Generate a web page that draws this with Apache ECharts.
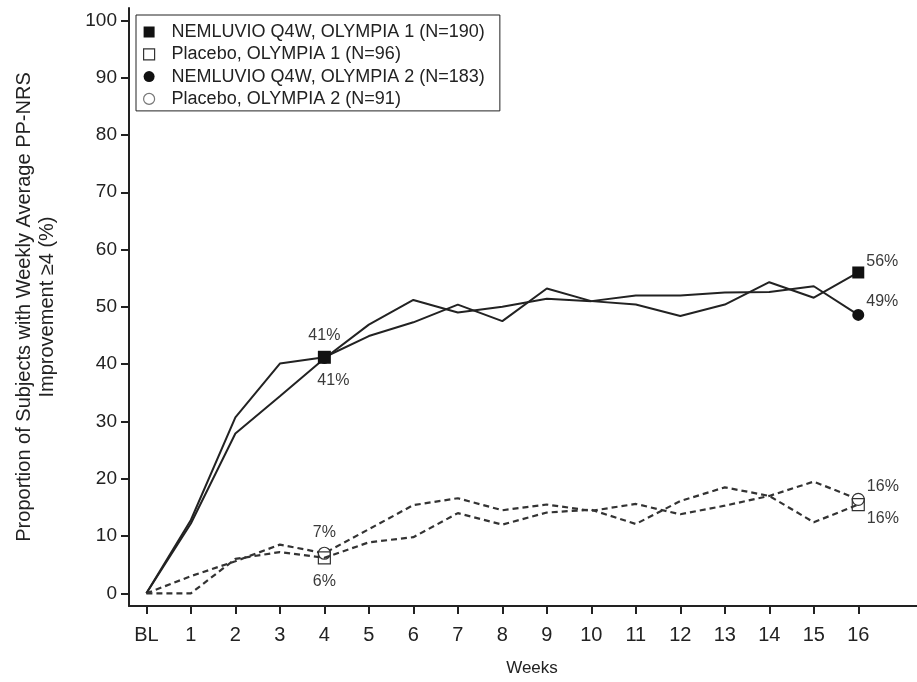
<!DOCTYPE html>
<html>
<head>
<meta charset="utf-8">
<script src="https://cdn.jsdelivr.net/npm/echarts@6/dist/echarts.min.js"></script>
<style>
html,body{margin:0;padding:0;background:#fff;}
#chart{width:917px;height:682px;}
</style>
</head>
<body>
<div id="chart"></div>
<script>
// ---- data ----
var weeks = ['BL','1','2','3','4','5','6','7','8','9','10','11','12','13','14','15','16'];
var yTicks = [0,10,20,30,40,50,60,70,80,90,100];
var nemO1 = [0, 12.8, 30.7, 40.1, 41.2, 44.9, 47.3, 50.4, 47.5, 53.2, 51.0, 50.4, 48.4, 50.4, 54.3, 51.6, 56.0];
var plaO1 = [0, 0.0, 6.0, 7.2, 6.2, 8.9, 9.8, 14.0, 12.0, 14.1, 14.6, 12.1, 16.1, 18.5, 17.0, 12.4, 15.5];
var nemO2 = [0, 12.2, 27.9, 34.4, 41.0, 46.9, 51.2, 49.0, 50.0, 51.4, 51.0, 52.0, 52.0, 52.5, 52.6, 53.6, 48.6];
var plaO2 = [0, 3.0, 5.6, 8.5, 7.0, 11.2, 15.4, 16.6, 14.5, 15.5, 14.4, 15.6, 13.8, 15.3, 17.0, 19.5, 16.4];
var seriesNames = [
  'NEMLUVIO Q4W, OLYMPIA 1 (N=190)',
  'Placebo, OLYMPIA 1 (N=96)',
  'NEMLUVIO Q4W, OLYMPIA 2 (N=183)',
  'Placebo, OLYMPIA 2 (N=91)'
];
var markedWeeks = [4, 16];

// ---- chart ----
var chart = echarts.init(document.getElementById('chart'), null, {renderer:'canvas'});
var FONT = '"Liberation Sans", Arial, sans-serif';
var LABEL_STYLE = {show: true, fontFamily: FONT, fontSize: 16, color: '#3a3a3a'};

function build(values, labelCfg, sizes) {
  return values.map(function (v, i) {
    var marked = markedWeeks.indexOf(i) >= 0;
    var item = {value: [i, v], symbolSize: marked ? (sizes[i] || 12) : 0};
    if (marked && labelCfg[i]) {
      item.label = Object.assign({formatter: Math.round(v) + '%'}, LABEL_STYLE, labelCfg[i]);
    }
    return item;
  });
}

var solid = {color: '#222', width: 2, type: 'solid'};
var dashed = {color: '#333', width: 2.2, type: [6, 4]};

var series = [
  {
    name: seriesNames[2], type: 'line', z: 2,
    symbol: 'circle', showSymbol: true,
    itemStyle: {color: '#111'},
    lineStyle: solid,
    data: build(nemO2, {
      4: {position: 'bottom', offset: [9, 4]},
      16: {position: 'right', offset: [-3, -13]}
    }, {4: 11})
  },
  {
    name: seriesNames[0], type: 'line', z: 3,
    symbol: 'rect', showSymbol: true,
    itemStyle: {color: '#111'},
    lineStyle: solid,
    data: build(nemO1, {
      4: {position: 'top', offset: [0, -2]},
      16: {position: 'right', offset: [-3, -11]}
    }, {4: 13})
  },
  {
    name: seriesNames[3], type: 'line', z: 2,
    symbol: 'circle', showSymbol: true,
    itemStyle: {color: '#fff', borderColor: '#333', borderWidth: 1.2},
    lineStyle: dashed,
    data: build(plaO2, {
      4: {position: 'top', offset: [0, -1]},
      16: {position: 'right', offset: [-3, -13]}
    }, {})
  },
  {
    name: seriesNames[1], type: 'line', z: 3,
    symbol: 'rect', showSymbol: true,
    itemStyle: {color: 'rgba(255,255,255,0)', borderColor: '#333', borderWidth: 1.2},
    lineStyle: dashed,
    data: build(plaO1, {
      4: {position: 'bottom', offset: [0, 4]},
      16: {position: 'right', offset: [-3, 14]}
    }, {})
  }
];

var tickIdx = weeks.map(function (w, i) { return i; });

var option = {
  animation: false,
  backgroundColor: '#fff',
  grid: {left: 129, right: 0, top: 8, bottom: 75, containLabel: false},
  legend: {
    orient: 'vertical',
    left: 136, top: 15,
    padding: [8, 15, 3, 7],
    itemGap: 4.3,
    itemWidth: 11, itemHeight: 11,
    borderColor: '#222', borderWidth: 1,
    backgroundColor: '#fff',
    textStyle: {fontFamily: FONT, fontSize: 18, color: '#222', padding: [0, 0, 0, 12]},
    data: [
      {name: seriesNames[0], icon: 'rect', itemStyle: {color: '#111', borderWidth: 0}},
      {name: seriesNames[1], icon: 'rect', itemStyle: {color: '#fff', borderColor: '#333', borderWidth: 1.2}},
      {name: seriesNames[2], icon: 'circle', itemStyle: {color: '#111', borderWidth: 0}},
      {name: seriesNames[3], icon: 'circle', itemStyle: {color: '#fff', borderColor: '#777', borderWidth: 1.2}}
    ]
  },
  xAxis: {
    type: 'value',
    min: -0.391, max: 17.32,
    name: 'Weeks', nameLocation: 'middle', nameGap: 54,
    nameTextStyle: {fontFamily: FONT, fontSize: 17, color: '#222', padding: [0, 0, 0, 18]},
    axisLine: {show: true, onZero: false, lineStyle: {color: '#222', width: 2}},
    axisTick: {show: true, length: 8, customValues: tickIdx, lineStyle: {color: '#222', width: 2}},
    axisLabel: {
      customValues: tickIdx,
      formatter: function (v) { return weeks[Math.round(v)]; },
      margin: 19,
      fontFamily: FONT, fontSize: 20, color: '#222'
    },
    splitLine: {show: false}
  },
  yAxis: {
    type: 'value',
    min: -2.21, max: 102.16,
    name: 'Proportion of Subjects with Weekly Average PP-NRS\nImprovement \u22654 (%)',
    nameLocation: 'middle', nameRotate: 90, nameGap: 70,
    nameTextStyle: {fontFamily: FONT, fontSize: 20, color: '#222', lineHeight: 23, align: 'center'},
    axisLine: {show: true, onZero: false, lineStyle: {color: '#222', width: 2}},
    axisTick: {show: true, length: 8, customValues: yTicks, lineStyle: {color: '#222', width: 2}},
    axisLabel: {
      customValues: yTicks,
      margin: 12,
      fontFamily: FONT, fontSize: 19, color: '#222'
    },
    splitLine: {show: false}
  },
  series: series
};
chart.setOption(option);
</script>
</body>
</html>
